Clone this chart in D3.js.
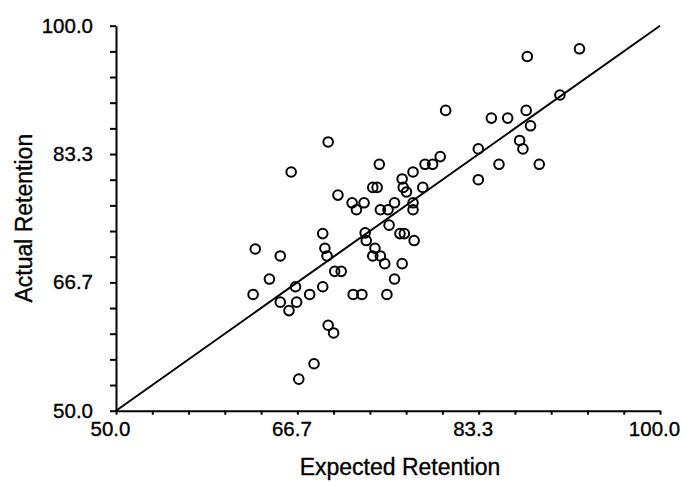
<!doctype html>
<html>
<meta charset="utf-8">
<style>
  body { margin: 0; background: #fff; }
  svg text { font-family: Arial, "Liberation Sans", sans-serif; fill: #000; stroke: #000; stroke-width: 0.35px; }
</style>
<head>
  <script src="https://cdn.jsdelivr.net/npm/d3@7"></script>
</head>
<body>
<script>
  var width = 683,
      height = 486;

  // expected vs actual retention
  var expected = [92.6, 87.8, 90.8, 80.3, 87.7, 84.5, 86.0, 88.1, 87.1, 87.4,
                  83.3, 69.5, 79.8, 79.1, 78.4, 74.2, 85.2, 88.9, 77.3, 66.1,
                  83.3, 76.3, 76.4, 73.6, 74.0, 78.2, 76.7, 70.4, 71.7, 72.8,
                  75.6, 77.3, 72.1, 74.3, 75.0, 77.3, 75.1, 69.0, 72.9, 76.1,
                  76.5, 73.0, 77.4, 62.8, 69.2, 73.8, 65.1, 69.4, 73.6, 74.3,
                  74.7, 76.3, 64.1, 70.1, 70.7, 75.6, 66.5, 69.0, 62.6, 67.8,
                  71.8, 72.6, 74.9, 65.1, 66.6, 65.9, 69.5, 70.0, 68.2, 66.8];
  var actual   = [97.0, 96.0, 91.0, 89.0, 89.0, 88.0, 88.0, 87.0, 85.1, 84.0,
                  84.0, 84.9, 83.0, 82.0, 82.0, 82.0, 82.0, 82.0, 81.0, 81.0,
                  80.0, 80.1, 79.0, 79.0, 79.0, 79.0, 78.4, 78.0, 77.0, 77.0,
                  77.0, 77.0, 76.1, 76.1, 76.1, 76.1, 74.1, 73.0, 73.1, 73.0,
                  73.0, 72.1, 72.1, 71.0, 71.1, 71.1, 70.1, 70.1, 70.1, 70.1,
                  69.1, 69.1, 67.1, 68.1, 68.1, 67.1, 66.1, 66.1, 65.1, 65.1,
                  65.1, 65.1, 65.1, 64.1, 64.1, 63.0, 61.1, 60.1, 56.1, 54.1];

  var tickValues = d3.range(0, 16).map(function(i) { return 50 + i * 50 / 15; });
  var labelled = [50, 100 * 2 / 3, 250 / 3, 100];
  var tickLabels = ["50.0", "66.7", "83.3", "100.0"];
  var diagonal = [50, 100];

  var points = expected.map(function(d, i) { return {x: d, y: actual[i]}; });

  var x = d3.scaleLinear().domain([50, 100]).range([116, 660]);
  var y = d3.scaleLinear().domain([50, 100]).range([410.7, 25.7]);

  function fmt(d) {
    for (var i = 0; i < labelled.length; i++) {
      if (Math.abs(d - labelled[i]) < 0.01) return tickLabels[i];
    }
    return "";
  }

  var svg = d3.select("body").append("svg")
    .attr("width", width)
    .attr("height", height);

  var xAxis = svg.append("g")
    .attr("transform", "translate(0," + y(50) + ")")
    .call(d3.axisBottom(x).tickValues(tickValues).tickFormat(fmt)
      .tickSize(4).tickSizeOuter(0).tickPadding(7));

  var yAxis = svg.append("g")
    .attr("transform", "translate(" + x(50) + ",0)")
    .call(d3.axisLeft(y).tickValues(tickValues).tickFormat(fmt)
      .tickSize(6).tickSizeOuter(0).tickPadding(17));

  [xAxis, yAxis].forEach(function(g) {
    g.select(".domain").attr("stroke", "#000").attr("stroke-width", 2);
    g.selectAll(".tick line").attr("stroke", "#000").attr("stroke-width", 2);
    g.selectAll(".tick text").style("font-size", "20.5px").attr("fill", "#000");
  });
  // the scanned labels sit a little left of their ticks
  xAxis.selectAll(".tick text").attr("dx", -6);

  // y = x reference line
  svg.append("line")
    .attr("x1", x(diagonal[0])).attr("y1", y(diagonal[0]))
    .attr("x2", x(diagonal[1])).attr("y2", y(diagonal[1]))
    .attr("stroke", "#000")
    .attr("stroke-width", 2);

  svg.append("g").selectAll("circle")
    .data(points)
    .enter().append("circle")
    .attr("cx", function(d) { return x(d.x); })
    .attr("cy", function(d) { return y(d.y); })
    .attr("r", 4.8)
    .attr("fill", "none")
    .attr("stroke", "#000")
    .attr("stroke-width", 2);

  svg.append("text")
    .attr("x", 400)
    .attr("y", 475)
    .attr("text-anchor", "middle")
    .style("font-size", "23px")
    .text("Expected Retention");

  svg.append("text")
    .attr("transform", "translate(32," + (y(50) + y(100)) / 2 + ") rotate(-90)")
    .attr("text-anchor", "middle")
    .style("font-size", "23px")
    .text("Actual Retention");
</script>
</body>
</html>
